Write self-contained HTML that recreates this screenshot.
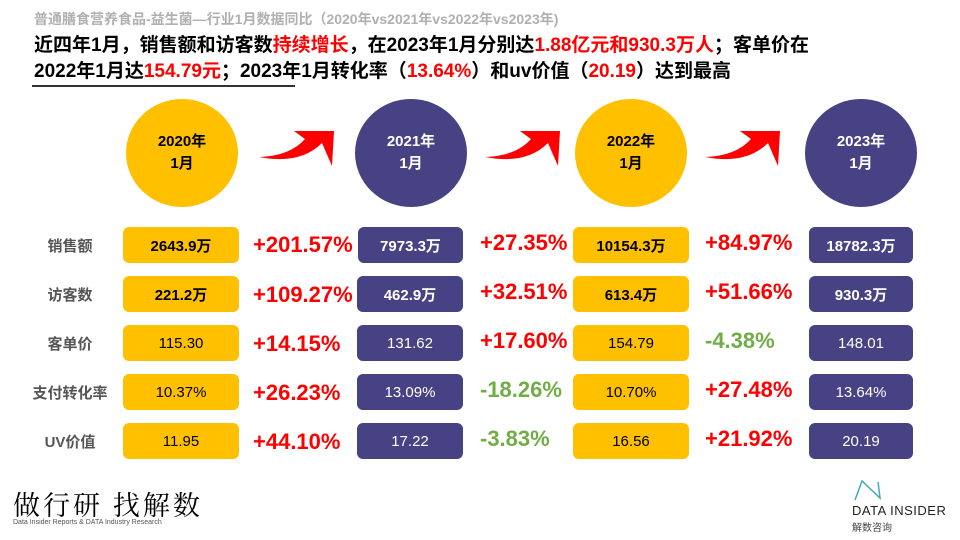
<!DOCTYPE html>
<html><head><meta charset="utf-8"><style>
*{margin:0;padding:0;box-sizing:border-box}
body{width:960px;height:540px;background:#fff;position:relative;overflow:hidden;font-family:"Liberation Sans","Noto Sans CJK SC",sans-serif}
.a{position:absolute;white-space:nowrap}
.c{position:absolute;width:112px;height:108px;border-radius:50%;display:flex;align-items:center;justify-content:center;text-align:center;font-weight:bold;font-size:15px;line-height:22px}
.y{background:#FFC000;color:#000}
.p{background:#474284;color:#fff}
.b{position:absolute;height:36px;border-radius:6px;display:flex;align-items:center;justify-content:center;font-weight:bold;font-size:15px}
.l{position:absolute;left:30px;width:80px;text-align:center;font-size:15px;font-weight:bold;color:#555}
.pc{position:absolute;font-size:22px;font-weight:bold}
.r{color:#F00}.g{color:#70AD47}
</style></head><body>
<div class="a" style="left:34px;top:9px;font-size:14px;font-weight:bold;color:#B0B0B0">普通膳食营养食品-益生菌—行业1月数据同比（2020年vs2021年vs2022年vs2023年)</div>
<div class="a" style="left:34px;top:33px;font-size:19px;font-weight:bold;color:#000;line-height:26px">近四年1月，销售额和访客数<span class="r">持续增长</span>，在2023年1月分别达<span class="r">1.88亿元和930.3万人</span>；客单价在<br>2022年1月达<span class="r">154.79元</span>；2023年1月转化率（<span class="r">13.64%</span>）和uv价值（<span class="r">20.19</span>）达到最高</div>
<div class="a" style="left:32px;top:85px;width:263px;height:2px;background:#333"></div>

<div class="c y" style="left:126px;top:99px">2020年<br>1月</div>
<div class="c p" style="left:355px;top:99px">2021年<br>1月</div>
<div class="c y" style="left:575px;top:99px">2022年<br>1月</div>
<div class="c p" style="left:805px;top:99px">2023年<br>1月</div>

<svg class="a" style="left:0;top:0" width="960" height="540">
<g fill="#F00">
<path d="M259 157 Q300 165 322 143 L332 166 L334 131 L294 131 L305 139 Q290 156 259 157Z"/>
<path d="M485 157 Q526 165 548 143 L558 166 L560 131 L520 131 L531 139 Q516 156 485 157Z"/>
<path d="M705 157 Q746 165 768 143 L778 166 L780 131 L740 131 L751 139 Q736 156 705 157Z"/>
</g></svg>

<div class="l" style="top:235px">销售额</div>
<div class="l" style="top:284px">访客数</div>
<div class="l" style="top:333px">客单价</div>
<div class="l" style="top:382px">支付转化率</div>
<div class="l" style="top:431px">UV价值</div>

<div class="b y" style="left:123px;top:227px;width:116px">2643.9万</div>
<div class="b y" style="left:123px;top:276px;width:116px">221.2万</div>
<div class="b y" style="left:123px;top:325px;width:116px;font-weight:normal">115.30</div>
<div class="b y" style="left:123px;top:374px;width:116px;font-weight:normal">10.37%</div>
<div class="b y" style="left:123px;top:423px;width:116px;font-weight:normal">11.95</div>

<div class="b p" style="left:358px;top:227px;width:105px">7973.3万</div>
<div class="b p" style="left:357px;top:276px;width:106px">462.9万</div>
<div class="b p" style="left:357px;top:325px;width:106px;font-weight:normal">131.62</div>
<div class="b p" style="left:357px;top:374px;width:106px;font-weight:normal">13.09%</div>
<div class="b p" style="left:357px;top:423px;width:106px;font-weight:normal">17.22</div>

<div class="b y" style="left:573px;top:227px;width:116px">10154.3万</div>
<div class="b y" style="left:573px;top:276px;width:116px">613.4万</div>
<div class="b y" style="left:573px;top:325px;width:116px;font-weight:normal">154.79</div>
<div class="b y" style="left:573px;top:374px;width:116px;font-weight:normal">10.70%</div>
<div class="b y" style="left:573px;top:423px;width:116px;font-weight:normal">16.56</div>

<div class="b p" style="left:809px;top:227px;width:104px">18782.3万</div>
<div class="b p" style="left:809px;top:276px;width:104px">930.3万</div>
<div class="b p" style="left:809px;top:325px;width:104px;font-weight:normal">148.01</div>
<div class="b p" style="left:809px;top:374px;width:104px;font-weight:normal">13.64%</div>
<div class="b p" style="left:809px;top:423px;width:104px;font-weight:normal">20.19</div>

<div class="pc r" style="left:253px;top:232px">+201.57%</div>
<div class="pc r" style="left:253px;top:282px">+109.27%</div>
<div class="pc r" style="left:253px;top:331px">+14.15%</div>
<div class="pc r" style="left:253px;top:380px">+26.23%</div>
<div class="pc r" style="left:253px;top:429px">+44.10%</div>

<div class="pc r" style="left:480px;top:230px">+27.35%</div>
<div class="pc r" style="left:480px;top:279px">+32.51%</div>
<div class="pc r" style="left:480px;top:328px">+17.60%</div>
<div class="pc g" style="left:480px;top:377px">-18.26%</div>
<div class="pc g" style="left:480px;top:426px">-3.83%</div>

<div class="pc r" style="left:705px;top:230px">+84.97%</div>
<div class="pc r" style="left:705px;top:279px">+51.66%</div>
<div class="pc g" style="left:705px;top:328px">-4.38%</div>
<div class="pc r" style="left:705px;top:377px">+27.48%</div>
<div class="pc r" style="left:705px;top:426px">+21.92%</div>

<div class="a" style="left:13px;top:484px;font-size:27px;color:#000;letter-spacing:3px;font-family:'Noto Serif CJK SC',serif">做行研 找解数</div>
<div class="a" style="left:13px;top:519px;font-size:7px;color:#555">Data Insider Reports &amp; DATA Industry Research</div>

<svg class="a" style="left:850px;top:478px" width="40" height="25"><polyline points="5,22 12,3 30,20 28,4" fill="none" stroke="#4ab" stroke-width="1.5"/></svg>
<div class="a" style="left:852px;top:503px;font-size:13px;color:#222;letter-spacing:.5px">DATA INSIDER</div>
<div class="a" style="left:852px;top:519px;font-size:10px;color:#444">解数咨询</div>
</body></html>
